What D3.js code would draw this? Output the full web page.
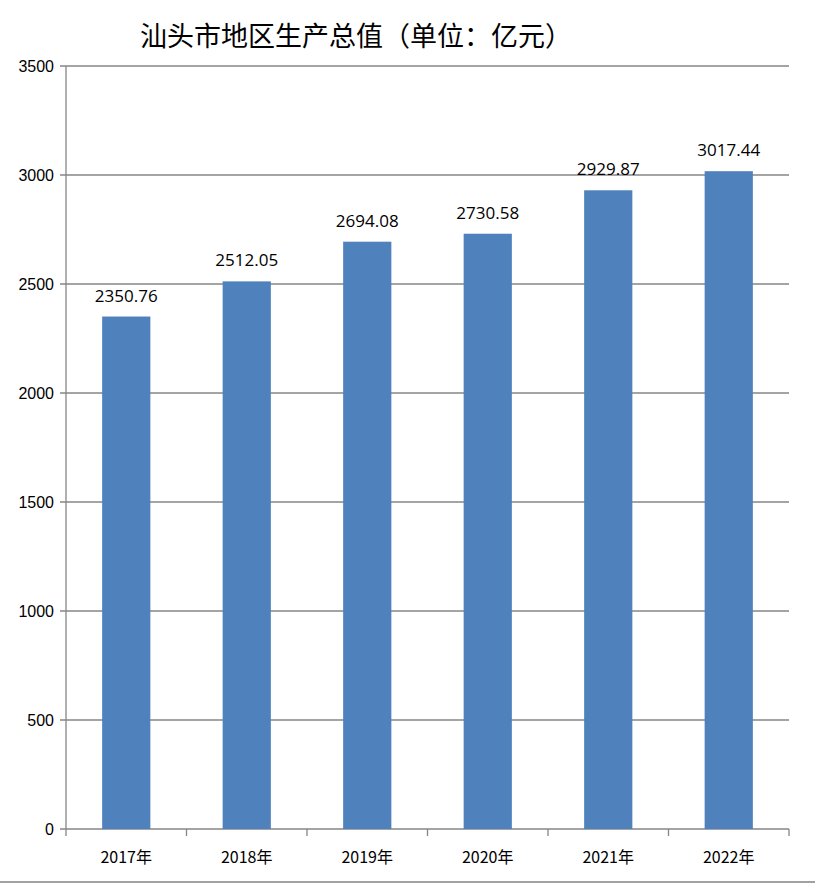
<!DOCTYPE html>
<html><head><meta charset="utf-8">
<script src="https://cdn.jsdelivr.net/npm/d3@7"></script>
<style>body{margin:0;background:#fff}</style></head>
<body><svg id="c" width="815" height="884"></svg>
<script>
const categories=["2017年","2018年","2019年","2020年","2021年","2022年"];
const values=[2350.76,2512.05,2694.08,2730.58,2929.87,3017.44];
const labels=["2350.76","2512.05","2694.08","2730.58","2929.87","3017.44"];
const yTicks=[0,500,1000,1500,2000,2500,3000,3500];
const title="汕头市地区生产总值（单位：亿元）";

const svg=d3.select("#c");
const L=66,R=789,T=66,B=829;
const x=d3.scaleBand().domain(categories).range([L,R]).paddingInner(0.6).paddingOuter(0.3);
const xb=d3.scaleBand().domain(categories).range([L,R]);
const y=d3.scaleLinear().domain([0,3500]).range([B,T]);
const grey="#868686";
// gridlines
svg.append("g").selectAll("line").data(yTicks).join("line")
 .attr("x1",L-6).attr("x2",R).attr("y1",d=>y(d)).attr("y2",d=>y(d))
 .attr("stroke",grey).attr("stroke-width",1.3);
svg.append("line").attr("x1",L).attr("x2",L).attr("y1",T).attr("y2",B).attr("stroke",grey).attr("stroke-width",1.3);
svg.append("g").selectAll("text").data(yTicks).join("text")
 .attr("x",L-12).attr("y",d=>y(d)+6).attr("text-anchor","end")
 .attr("font-family","Liberation Sans, Arial").attr("font-size",16).text(d=>d);
// x ticks
svg.append("g").selectAll("line").data(categories.concat(["end"])).join("line")
 .attr("x1",(d,i)=>L+i*xb.step()).attr("x2",(d,i)=>L+i*xb.step())
 .attr("y1",B).attr("y2",B+7).attr("stroke",grey).attr("stroke-width",1.3);
svg.append("g").selectAll("text").data(categories).join("text")
 .attr("x",d=>xb(d)+xb.bandwidth()/2).attr("y",B+34).attr("text-anchor","middle")
 .attr("font-family","Noto Sans CJK SC").attr("font-size",16).text(d=>d);
// bars
svg.append("g").selectAll("rect").data(values).join("rect")
 .attr("x",(d,i)=>x(categories[i])).attr("width",x.bandwidth())
 .attr("y",d=>y(d)).attr("height",d=>B-y(d)).attr("fill","#4F81BD");
svg.append("g").selectAll("text").data(values).join("text")
 .attr("x",(d,i)=>x(categories[i])+x.bandwidth()/2).attr("y",d=>y(d)-15)
 .attr("text-anchor","middle").attr("font-family","Open Sans, Noto Sans").attr("font-size",17)
 .text((d,i)=>labels[i]);
svg.append("text").attr("x",140).attr("y",46).attr("font-family","Noto Sans CJK SC")
 .attr("font-size",27).text(title);
svg.append("line").attr("x1",0).attr("x2",815).attr("y1",882).attr("y2",882).attr("stroke","#444");
</script></body></html>
